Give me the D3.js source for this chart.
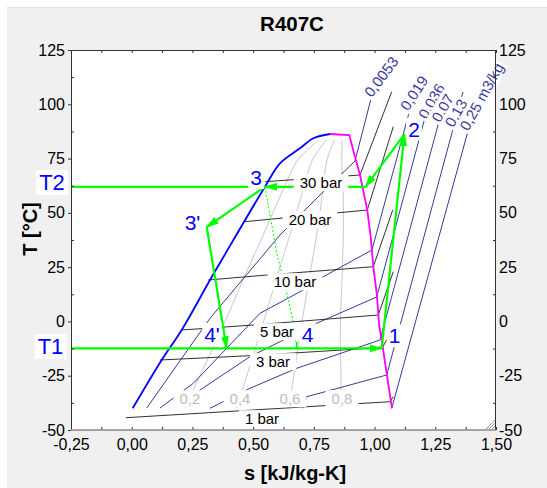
<!DOCTYPE html>
<html>
<head>
<meta charset="utf-8">
<script src="https://cdn.jsdelivr.net/npm/d3@7"></script>
<style>
body { margin: 0; background: #fff; }
text { font-family: "Liberation Sans", Arial, sans-serif; }
</style>
</head>
<body>
<svg id="chart" width="547" height="488"></svg>
<script>
// all points are [s (kJ/kg-K), T (C)]
var liquidLine = [[0.004,-40.0],[0.1235,-17.76],[0.2058,-3.95],[0.3223,19.08],[0.3705,28.29],[0.5488,62.05],[0.6106,72.82],[0.6929,79.73],[0.7477,84.34],[0.8165,86.32]];
var dewLine = [[0.8165,86.32],[0.8959,85.86],[0.9153,77.43],[0.94,67.43],[0.97,51.3],[0.984,39.02],[0.9948,25.2],[1.0088,12.95],[1.0195,-2.43],[1.0293,-8.55],[1.0499,-23.89],[1.0705,-39.27],[1.072,-40.0]];

// quality lines
var quality02 = [[0.2173,-40],[0.2507,-32.04],[0.3689,-3.95],[0.4582,19.08],[0.5505,42.1],[0.6291,62.05],[0.6835,74.34],[0.7703,83.55]];
var quality04 = [[0.4306,-40],[0.4541,-32.04],[0.5323,-3.95],[0.5941,19.08],[0.6575,42.1],[0.7094,62.05],[0.744,74.34],[0.8025,83.55]];
var quality06 = [[0.6439,-40],[0.6579,-32.04],[0.6954,-3.95],[0.73,19.08],[0.7646,42.1],[0.7893,62.05],[0.8041,74.34],[0.8346,83.55]];
var quality08 = [[0.8572,-40],[0.8618,-32.04],[0.8589,-3.95],[0.8659,19.08],[0.8716,42.1],[0.87,62.05],[0.865,74.34],[0.8667,83.55]];
var qualityLabels = ["0,2", "0,4", "0,6", "0,8"];
var qualityLabelPos = [[0.24,-35.72],[0.4459,-35.72],[0.6518,-35.72],[0.8659,-35.72]];

// specific volume lines (m3/kg)
var vol0053 = [[0.0617,-39.87],[0.2882,-3.95],[0.3223,1.44],[0.6106,39.8],[0.7823,59.0],[0.9194,73.88],[0.984,101.97],[0.992,105.66]];
var vol019 = [[0.1165,-39.87],[0.2536,-28.5],[0.5282,3.74],[0.7065,14.47],[0.7889,20.6],[0.9894,32.9],[1.165,105.66]];
var vol036 = [[0.1906,-38.49],[0.2812,-31.58],[0.487,-16.24],[0.7617,-0.86],[1.0088,11.25],[1.236,105.66]];
var vol07 = [[0.3223,-40.0],[0.487,-30.8],[0.6793,-21.59],[1.0223,-8.55],[1.298,105.66]];
var vol13 = [[0.705,-40.0],[0.7205,-34.67],[1.0499,-24.67],[1.364,105.66]];
var vol25 = [[1.0705,-40.0],[1.429,105.66]];
var volumeLabels = ["0,0053", "0,019", "0,036", "0,07", "0,13", "0,25 m3/kg"];
var volumeLabelPos = [[0.9882,102.76],[1.1389,96.59],[1.2146,92.76],[1.2694,91.24],[1.3242,88.94],[1.3859,87.37]];

// isobars
var isobar1 = [[-0.0235,-44.34],[1.0635,-36.97],[1.077,-34.67]];
var isobar3 = [[0.1165,-17.76],[0.487,-15.78],[0.9124,-12.84],[1.0335,-11.78],[1.077,-3.17]];
var isobar5 = [[0.2058,-3.95],[0.5007,-1.65],[1.0153,2.96],[1.077,22.9]];
var isobar10 = [[0.3153,19.08],[0.5558,21.38],[0.9948,25.2],[1.0746,51.3]];
var isobar20 = [[0.4644,45.93],[0.6106,47.5],[0.97,51.3],[1.077,89.68]];
var isobar30 = [[0.55,64.35],[0.94,67.43],[1.0705,105.8]];
var barLabels = ["30 bar", "20 bar", "10 bar", "5 bar", "3 bar", "1 bar"];
var barLabelPos = [[0.7794,63.75],[0.7341,46.71],[0.6723,18.16],[0.5982,-4.87],[0.5818,-18.68],[0.5365,-44.94]];

// refrigeration cycle
var lineT2 = [[-0.25,62.0],[0.5488,62.0]];
var lineT1 = [[-0.25,-12.4],[1.0293,-12.4]];
var path12 = [[1.0293,-12.4],[1.123,86.3]];
var path2a = [[1.123,86.3],[0.9626,62.0]];
var path2a3 = [[0.9626,62.0],[0.5488,62.0]];
var path33p = [[0.5488,62.0],[0.3088,43.5]];
var path3p4p = [[0.3088,43.5],[0.391,-12.4]];
var path34 = [[0.5488,62.0],[0.597,31.51],[0.6382,13.09],[0.6653,-0.12],[0.6793,-12.4]];
var cycleLabels = ["1", "2", "3", "3'", "4", "4'"];
var cycleLabelPos = [[1.082,-10.07],[1.1623,85.07],[0.5118,62.83],[0.2503,42.1],[0.7238,-9.34],[0.3306,-9.47]];
var tempLabels = ["T2", "T1"];
var tempLabelPos = [[-0.3282,60.53],[-0.3344,-15.0]];

// axis ticks
var xTicks = [-0.25, 0, 0.25, 0.5, 0.75, 1.0, 1.25, 1.5];
var xMinor = [-0.25, -0.125, 0, 0.125, 0.25, 0.375, 0.5, 0.625, 0.75, 0.875, 1.0, 1.125, 1.25, 1.375, 1.5];
var yTicks = [-50, -25, 0, 25, 50, 75, 100, 125];
var yMinor = [-37.5, -12.5, 12.5, 37.5, 62.5, 87.5, 112.5];

var svg = d3.select("#chart");
var x = d3.scaleLinear().domain([-0.25, 1.5]).range([71, 496]);
var y = d3.scaleLinear().domain([-50, 125]).range([430, 50]);
var line = d3.line().x(function (d) { return x(d[0]); }).y(function (d) { return y(d[1]); });
var smooth = d3.line().curve(d3.curveCatmullRom).x(function (d) { return x(d[0]); }).y(function (d) { return y(d[1]); });
var green = "#00ff00";

svg.append("rect").attr("width", 547).attr("height", 488).attr("fill", "#fff");
svg.append("rect").attr("x", 7).attr("y", 7).attr("width", 540).attr("height", 481).attr("fill", "#f0f0f0");
svg.append("line").attr("x1", 7).attr("x2", 547).attr("y1", 7.5).attr("y2", 7.5).attr("stroke", "#e2e2e2");
svg.append("rect").attr("x", 71).attr("y", 50).attr("width", 425).attr("height", 380).attr("fill", "#fff");

var defs = svg.append("defs");
defs.append("marker").attr("id", "arrow")
    .attr("viewBox", "0 0 13 8").attr("refX", 12).attr("refY", 4)
    .attr("markerWidth", 13).attr("markerHeight", 8)
    .attr("markerUnits", "userSpaceOnUse").attr("orient", "auto")
    .append("path").attr("d", "M0,0L13,4L0,8Z").attr("fill", green);

var plot = svg.append("g");

// quality lines
[quality02, quality04, quality06, quality08].forEach(function (q) {
    plot.append("path").datum(q).attr("d", smooth)
        .attr("fill", "none").attr("stroke", "#c8c8c8").attr("stroke-width", 1);
});

// volume lines
[vol0053, vol019, vol036, vol07, vol13, vol25].forEach(function (v) {
    plot.append("path").datum(v).attr("d", line)
        .attr("fill", "none").attr("stroke", "#22228f").attr("stroke-width", 0.9);
});

// isobars
[isobar1, isobar3, isobar5, isobar10, isobar20, isobar30].forEach(function (p) {
    plot.append("path").datum(p).attr("d", line)
        .attr("fill", "none").attr("stroke", "#1a1a1a").attr("stroke-width", 0.9);
});

// dome
plot.append("path").datum(liquidLine).attr("d", smooth)
    .attr("fill", "none").attr("stroke", "#0000ff").attr("stroke-width", 1.8);
plot.append("path").datum(dewLine).attr("d", line)
    .attr("fill", "none").attr("stroke", "#ff00ff").attr("stroke-width", 1.8);

// cycle
plot.append("path").datum(path34).attr("d", line)
    .attr("fill", "none").attr("stroke", green).attr("stroke-width", 1).attr("stroke-dasharray", "2,2");
[lineT2, lineT1, path12, path2a, path2a3, path33p, path3p4p].forEach(function (p, i) {
    var pth = plot.append("path").datum(p).attr("d", line)
        .attr("fill", "none").attr("stroke", green).attr("stroke-width", 2.2);
    if (i > 0) pth.attr("marker-end", "url(#arrow)");
});
plot.append("line")
    .attr("x1", x(0.6793)).attr("x2", x(0.6793))
    .attr("y1", y(-9.4)).attr("y2", y(-12.4))
    .attr("stroke", green).attr("stroke-width", 1.5);

// label with white background
function addLabel(txt, pos, size, color, opts) {
    opts = opts || {};
    var g = svg.append("g")
        .attr("transform", "translate(" + x(pos[0]) + "," + y(pos[1]) + ")" +
            (opts.angle ? " rotate(" + opts.angle + ")" : ""));
    var t = g.append("text")
        .attr("text-anchor", opts.anchor || "middle")
        .attr("dy", opts.dy || 0)
        .attr("font-size", size)
        .attr("fill", color)
        .text(txt);
    var bb = t.node().getBBox();
    var px = opts.padX === undefined ? 4 : opts.padX, py = opts.padY === undefined ? 0 : opts.padY;
    g.insert("rect", "text")
        .attr("x", bb.x - px).attr("y", bb.y - py)
        .attr("width", bb.width + 2 * px).attr("height", bb.height + 2 * py)
        .attr("fill", "#fff");
}

barLabels.forEach(function (d, i) {
    addLabel(d, barLabelPos[i], 15, "#000", { dy: "0.35em", padX: 6 });
});
qualityLabels.forEach(function (d, i) {
    addLabel(d, qualityLabelPos[i], 15, "#bdbdbd", { dy: "0.35em", padX: 6 });
});
var volAngles = [-53, -57, -60, -60, -60, -61];
volumeLabels.forEach(function (d, i) {
    addLabel(d, volumeLabelPos[i], 15, "#3a3aa0", { anchor: "start", angle: volAngles[i], padX: 2 });
});
cycleLabels.forEach(function (d, i) {
    addLabel(d, cycleLabelPos[i], 21, "#0000ff", { padX: 2, padY: 0 });
});
tempLabels.forEach(function (d, i) {
    addLabel(d, tempLabelPos[i], 22, "#0000ff", { padX: 3, padY: 0 });
});

// axes
var loc = d3.formatLocale({ decimal: ",", thousands: ".", grouping: [3], currency: ["", ""], minus: "-" });
var fx = loc.format(".2f"), fy = loc.format("d");

function styleAxis(g) {
    g.select(".domain").remove();
    g.selectAll("line").attr("stroke", "#333");
    g.selectAll("text").attr("font-size", 16).attr("fill", "#000")
        .style("font-family", "'Liberation Sans', Arial, sans-serif");
}

svg.append("g").attr("transform", "translate(0,430)")
    .call(d3.axisBottom(x).tickValues(xTicks).tickSize(0).tickPadding(9).tickFormat(fx)).call(styleAxis);
svg.append("g").attr("transform", "translate(0,430)")
    .call(d3.axisBottom(x).tickValues(xMinor).tickSize(-3).tickFormat("")).call(styleAxis);
svg.append("g").attr("transform", "translate(0,50)")
    .call(d3.axisTop(x).tickValues(xMinor).tickSize(-3).tickFormat("")).call(styleAxis);
svg.append("g").attr("transform", "translate(71,0)")
    .call(d3.axisLeft(y).tickValues(yTicks).tickSize(3).tickPadding(3).tickFormat(fy)).call(styleAxis);
svg.append("g").attr("transform", "translate(71,0)")
    .call(d3.axisLeft(y).tickValues(yMinor).tickSize(-3).tickFormat("")).call(styleAxis);
svg.append("g").attr("transform", "translate(496,0)")
    .call(d3.axisRight(y).tickValues(yTicks).tickSize(0).tickPadding(3).tickFormat(fy)).call(styleAxis);
svg.append("g").attr("transform", "translate(496,0)")
    .call(d3.axisRight(y).tickValues(yMinor).tickSize(-3).tickFormat("")).call(styleAxis);

// frame
svg.append("line").attr("x1", 71).attr("x2", 496).attr("y1", 50.5).attr("y2", 50.5).attr("stroke", "#333");
svg.append("line").attr("x1", 71.5).attr("x2", 71.5).attr("y1", 50).attr("y2", 430).attr("stroke", "#333");
svg.append("line").attr("x1", 495.5).attr("x2", 495.5).attr("y1", 50).attr("y2", 430).attr("stroke", "#333");
svg.append("line").attr("x1", 71).attr("x2", 496).attr("y1", 430).attr("y2", 430).attr("stroke", "#8a8a8a").attr("stroke-width", 1.6);

// size grip
[0, 3, 6].forEach(function (o) {
    svg.append("line").attr("x1", 486 + o).attr("y1", 429).attr("x2", 495).attr("y2", 420 + o)
        .attr("stroke", "#9a9a9a").attr("stroke-width", 1);
});

// titles
svg.append("text").attr("x", 292).attr("y", 31).attr("text-anchor", "middle")
    .attr("font-size", 20.5).attr("font-weight", "bold").text("R407C");
svg.append("text").attr("x", 295).attr("y", 480).attr("text-anchor", "middle")
    .attr("font-size", 20).attr("font-weight", "bold").text("s [kJ/kg-K]");
svg.append("text").attr("transform", "translate(37,229) rotate(-90)").attr("text-anchor", "middle")
    .attr("font-size", 20).attr("font-weight", "bold").text("T [°C]");
</script>
</body>
</html>
